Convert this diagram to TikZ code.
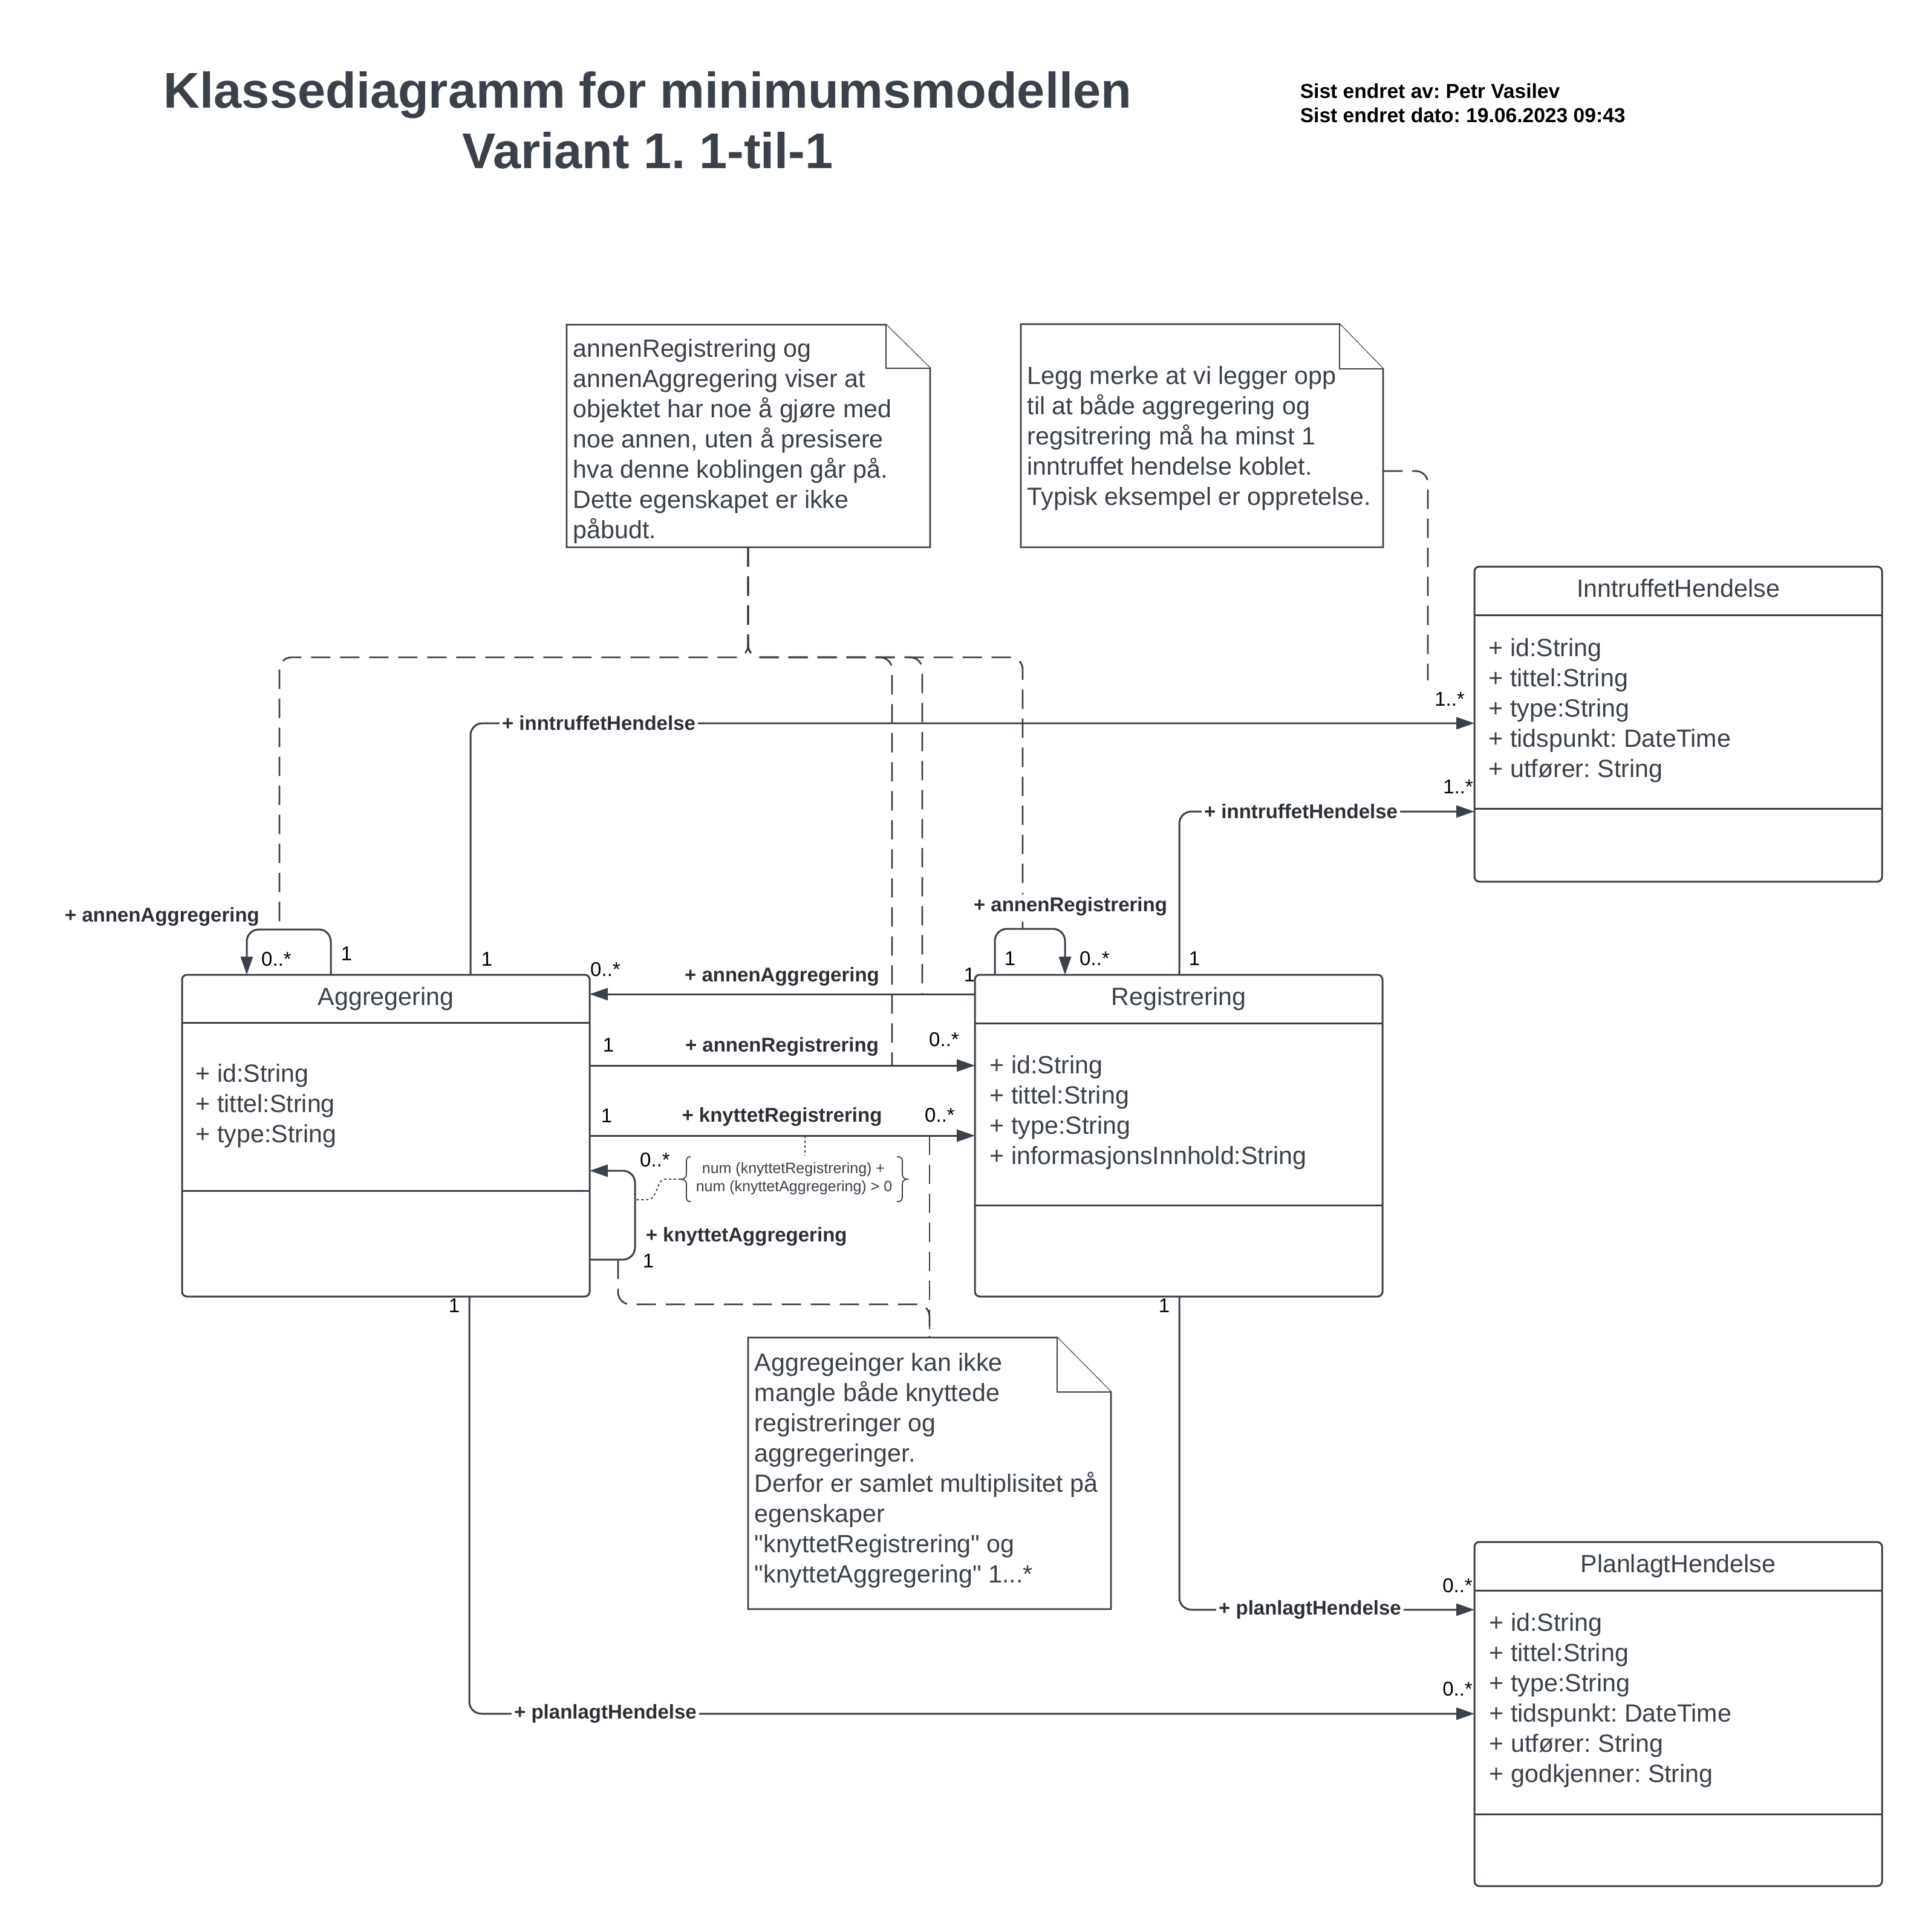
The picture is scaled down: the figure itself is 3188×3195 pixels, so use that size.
\documentclass[tikz,border=0pt]{standalone}
\usepackage{fontspec}
\setmainfont{Liberation Sans}[Ligatures=TeXOff]
\usetikzlibrary{arrows.meta}
\definecolor{lc}{HTML}{3A414A}
\definecolor{lbl}{HTML}{2B2F36}
\newcommand{\fsz}[2]{\fontsize{#1}{#2}\selectfont}
\newcommand{\mlines}[1]{\parbox[t]{180pt}{\raggedright #1}}
\frenchspacing
\begin{document}
\frenchspacing
\begin{tikzpicture}[x=0.25pt,y=-0.25pt,
  conn/.style={draw=lc, line width=0.75pt, rounded corners=5pt},
  arr/.style={conn, -{Triangle[length=7.5pt,width=5pt]}},
  notelink/.style={draw=lc, line width=0.7pt, dash pattern=on 8pt off 4pt, rounded corners=5pt},
  notebox/.style={draw=lc, fill=white, line width=0.65pt},
  classbox/.style={draw=lc, fill=white, line width=0.75pt, rounded corners=2pt, inner sep=0pt, outer sep=0pt, minimum width=168.5pt},
  divider/.style={draw=lc, line width=0.75pt},
  ctitle/.style={anchor=base, inner sep=0pt, text=lc, font=\fsz{10.3}{12.5}},
  body/.style={anchor=base west, inner sep=0pt, text=lc, font=\fsz{10.3}{12.5}},
  mult/.style={anchor=base, inner sep=0pt, text=black, font=\fsz{8.25}{10}},
  role/.style={anchor=base, inner sep=0pt, text=lbl, font=\bfseries\fsz{8.25}{10}},
  roleon/.style={inner xsep=1pt, inner ysep=1.5pt, fill=white, text=lbl, font=\bfseries\fsz{8.25}{10}},
  bigtitle/.style={anchor=base, inner sep=0pt, text=lc, font=\bfseries\fsz{20.75}{25}},
  meta/.style={anchor=base west, inner sep=0pt, text=black, font=\bfseries\fsz{8.4}{10}},
  cons/.style={anchor=base, inner sep=0pt, text=lc, font=\fsz{6.25}{7.5}},
  dotline/.style={draw=lc, line width=0.45pt, dash pattern=on 1pt off 1pt},
  bracestyle/.style={draw=lc, line width=0.45pt}
]
\fill[white] (0,0) rectangle (3188,3195);
\path[use as bounding box] (0,0) rectangle (3188,3195);

% ---------- titles ----------
\node[bigtitle] (title1) at (1071,178) {Klassediagramm for minimumsmodellen};
\node[bigtitle] (title2) at (1071,278) {Variant 1. 1-til-1};
\node[meta] (meta1) at (2149,162) {Sist endret av: Petr Vasilev};
\node[meta] (meta2) at (2149,202) {Sist endret dato: 19.06.2023 09:43};

% ---------- notes ----------
\filldraw[notebox] (937,537) -- (1465,537) -- (1538,609) -- (1538,905) -- (937,905) -- cycle;
\draw[notebox] (1465,537) -- (1465,609) -- (1538,609);
\node[body] (note1) at (947,590) {\mlines{annenRegistrering og\\annenAggregering viser at\\objektet har noe å gjøre med\\noe annen, uten å presisere\\hva denne koblingen går på.\\Dette egenskapet er ikke\\påbudt.}};

\filldraw[notebox] (1688,536) -- (2215,536) -- (2287,610) -- (2287,905) -- (1688,905) -- cycle;
\draw[notebox] (2215,536) -- (2215,610) -- (2287,610);
\node[body] (note2) at (1698,635) {\mlines{Legg merke at vi legger opp\\til at både aggregering og\\regsitrering må ha minst 1\\inntruffet hendelse koblet.\\Typisk eksempel er oppretelse.}};

\filldraw[notebox] (1237,2212) -- (1748,2212) -- (1837,2302) -- (1837,2661) -- (1237,2661) -- cycle;
\draw[notebox] (1748,2212) -- (1748,2302) -- (1837,2302);
\node[body] (note3) at (1247,2267) {\mlines{Aggregeinger kan ikke\\mangle både knyttede\\registreringer og\\aggregeringer.\\Derfor er samlet multiplisitet på\\egenskaper\\"knyttetRegistrering" og\\"knyttetAggregering" 1...*}};

% ---------- classes ----------
\node[classbox, minimum height=133pt] (agg) at (638,1878) {};
\draw[divider] (301,1691) -- (975,1691);
\draw[divider] (301,1969) -- (975,1969);
\node[ctitle] (aggT) at (638,1662) {Aggregering};
\node[body] (aggA) at (323,1789) {\mlines{+ id:String\\+ tittel:String\\+ type:String}};

\node[classbox, minimum height=133pt] (reg) at (1949,1878) {};
\draw[divider] (1612,1692) -- (2286,1692);
\draw[divider] (1612,1993) -- (2286,1993);
\node[ctitle] (regT) at (1949,1662) {Registrering};
\node[body] (regA) at (1636,1775) {\mlines{+ id:String\\+ tittel:String\\+ type:String\\+ informasjonsInnhold:String}};

\node[classbox, minimum height=130.25pt] (inn) at (2775,1197.5) {};
\draw[divider] (2438,1017) -- (3112,1017);
\draw[divider] (2438,1337) -- (3112,1337);
\node[ctitle] (innT) at (2775,987) {InntruffetHendelse};
\node[body] (innA) at (2461,1085) {\mlines{+ id:String\\+ tittel:String\\+ type:String\\+ tidspunkt: DateTime\\+ utfører: String}};

\node[classbox, minimum height=142.25pt] (plan) at (2775,2834.5) {};
\draw[divider] (2438,2630) -- (3112,2630);
\draw[divider] (2438,3000) -- (3112,3000);
\node[ctitle] (planT) at (2775,2600) {PlanlagtHendelse};
\node[body] (planA) at (2462,2697) {\mlines{+ id:String\\+ tittel:String\\+ type:String\\+ tidspunkt: DateTime\\+ utfører: String\\+ godkjenner: String}};

% ---------- named points on connectors ----------
\coordinate (n1bot) at (1237,905);
\coordinate (aggloop) at (462,1537);
\coordinate (regloop) at (1691,1536);
\coordinate (aaline) at (1525,1644);
\coordinate (arline) at (1475,1762);
\coordinate (n2right) at (2287,779);
\coordinate (n2end) at (2361,1125);
\coordinate (n3top) at (1537,2212);
\coordinate (kaloop) at (1022,2083);
\coordinate (krline) at (1537,1878);
\coordinate (krc) at (1331,1878);

% ---------- note links ----------
\draw[notelink] (n1bot) -- (1237,1087) -- (462,1087) -- (aggloop);
\draw[notelink] (n1bot) -- (1237,1087) -- (1475,1087) -- (arline);
\draw[notelink] (n1bot) -- (1237,1087) -- (1525,1087) -- (aaline);
\draw[notelink] (n1bot) -- (1237,1087) -- (1691,1087) -- (regloop);
\draw[notelink] (n2right) -- (2361,779) -- (n2end);
\draw[notelink] (kaloop) -- (1022,2157) -- (1537,2157) -- (n3top);
\draw[notelink] (krline) -- (n3top);

% ---------- associations ----------
\draw[arr] (agg.north -| 778,0) -- (778,1196) -- (inn.west |- 0,1196);
\draw[arr] (reg.north -| 1950,0) -- (1950,1342) -- (inn.west |- 0,1342);
\draw[arr] (reg.west |- 0,1644) -- (agg.east |- 0,1644);
\draw[arr] (agg.east |- 0,1762) -- (reg.west |- 0,1762);
\draw[arr] (agg.east |- 0,1878) -- (reg.west |- 0,1878);
\draw[arr] (agg.east |- 0,2083) -- (1050,2083) -- (1050,1936) -- (agg.east |- 0,1936);
\draw[arr] (agg.north -| 547,0) -- (547,1537) -- (408,1537) -- (agg.north -| 408,0);
\draw[arr] (reg.north -| 1645,0) -- (1645,1536) -- (1761,1536) -- (reg.north -| 1761,0);
\draw[arr] (agg.south -| 776,0) -- (776,2834) -- (plan.west |- 0,2834);
\draw[arr] (reg.south -| 1950,0) -- (1950,2662) -- (plan.west |- 0,2662);

% ---------- constraint ----------
\draw[dotline] (krc) -- (1331,1911);
\draw[dotline] (1126,1950) -- (1100,1950) .. controls (1085,1950) and (1088,1984) .. (1070,1984) -- (1050,1984);
\draw[bracestyle] (1142,1913) .. controls (1135,1913) and (1135,1917) .. (1135,1923) -- (1135,1942) .. controls (1135,1947) and (1131,1950) .. (1126,1950) .. controls (1131,1950) and (1135,1953) .. (1135,1958) -- (1135,1977) .. controls (1135,1983) and (1135,1987) .. (1142,1987);
\draw[bracestyle] (1483,1913) .. controls (1492,1913) and (1492,1917) .. (1492,1923) -- (1492,1942) .. controls (1492,1947) and (1496,1950) .. (1500,1950) .. controls (1496,1950) and (1492,1953) .. (1492,1958) -- (1492,1977) .. controls (1492,1983) and (1492,1987) .. (1483,1987);
\node[cons] (con1) at (1312,1940) {num (knyttetRegistrering) +};
\node[cons] (con2) at (1313,1970) {num (knyttetAggregering) > 0};

% ---------- role labels ----------
\node[roleon] (r1) at (990,1196) {+ inntruffetHendelse};
\node[roleon] (r2) at (2151,1342) {+ inntruffetHendelse};
\node[roleon] (r3) at (2166,2662) {+ planlagtHendelse};
\node[roleon] (r4) at (1001,2834) {+ planlagtHendelse};
\node[role] (r5) at (1293,1623) {+ annenAggregering};
\node[role] (r6) at (1293,1739) {+ annenRegistrering};
\node[role] (r7) at (1293,1855) {+ knyttetRegistrering};
\node[role, anchor=base west] (r8) at (1067,2053) {+ knyttetAggregering};
\node[role] (r9) at (268,1524) {+ annenAggregering};
\node[role, fill=white, inner sep=1pt] (r10) at (1770,1507) {+ annenRegistrering};

% ---------- multiplicities ----------
\node[mult] (m1) at (457,1597) {0..*};
\node[mult] (m2) at (573,1588) {1};
\node[mult] (m3) at (805,1597) {1};
\node[mult] (m4) at (1001,1614) {0..*};
\node[mult] (m5) at (1603,1623) {1};
\node[mult] (m6) at (1006,1739) {1};
\node[mult] (m7) at (1561,1730) {0..*};
\node[mult] (m8) at (1003,1856) {1};
\node[mult] (m9) at (1554,1855) {0..*};
\node[mult] (m10) at (1083,1929) {0..*};
\node[mult] (m11) at (1072,2096) {1};
\node[mult] (m12) at (751,2170) {1};
\node[mult] (m13) at (1925,2170) {1};
\node[mult] (m14) at (1670,1596) {1};
\node[mult] (m15) at (1810,1596) {0..*};
\node[mult] (m16) at (1975,1596) {1};
\node[mult] (m17) at (2397,1167) {1..*};
\node[mult] (m18) at (2411,1312) {1..*};
\node[mult] (m19) at (2410,2633) {0..*};
\node[mult] (m20) at (2410,2804) {0..*};
\end{tikzpicture}
\end{document}
